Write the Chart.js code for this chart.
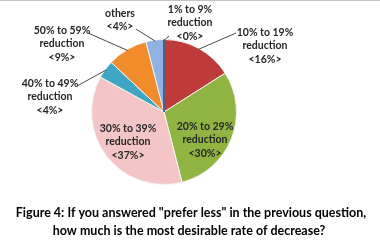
<!DOCTYPE html>
<html>
<head>
<meta charset="utf-8">
<script src="https://cdn.jsdelivr.net/npm/chart.js@4.4.1/dist/chart.umd.min.js"></script>
<style>
  html, body { margin: 0; background: #fff; }
  #wrap { width: 380px; height: 248px; position: relative; }
</style>
</head>
<body>
<div id="wrap"><canvas id="myChart"></canvas></div>
<script>
// data
const categories = ['1% to 9%', '10% to 19%', '20% to 29%', '30% to 39%', '40% to 49%', '50% to 59%', 'others']
const shares = [0, 16, 30, 37, 4, 9, 4]
const titleLines = ['Figure 4: If you answered "prefer less" in the previous question,',
                    'how much is the most desirable rate of decrease?']

// look
const sliceColors = ['#1f3d6e', '#be3b3a', '#8fb442', '#f4c5c6', '#3ea6c4', '#f28b2b', '#8fb2e2']
// label centre and leader start, as offsets from the pie centre (null = no leader)
const labelSpots = [[26, -89], [101, -66], [41, 28], [-36, 30], [-114, -15], [-102, -68], [-44, -92]]
const leaderFrom = [[5, -76], [72, -79], null, null, [-87, -26], [-76, -79], [-28, -83]]

function labelText(i) {
  if (categories[i] == 'others') return [categories[i], '<' + shares[i] + '%>']
  return [categories[i], 'reduction', '<' + shares[i] + '%>']
}

const pieLabels = {
  id: 'pieLabels',
  afterDraw(chart) {
    const ctx = chart.ctx
    const arcs = chart.getDatasetMeta(0).data
    ctx.save()
    // top frame line of the original picture
    ctx.strokeStyle = '#c4c4c4'
    ctx.lineWidth = 1
    ctx.beginPath(); ctx.moveTo(0, 0.5); ctx.lineTo(380, 0.5); ctx.stroke()

    arcs.forEach(function (arc, i) {
      const p = arc.getProps(['x', 'y', 'startAngle', 'endAngle', 'outerRadius'], true)
      // zero slice: Chart.js draws nothing, so show it as a thin edge
      if (shares[i] == 0) {
        ctx.strokeStyle = sliceColors[i]
        ctx.lineWidth = 1.5
        ctx.beginPath()
        ctx.moveTo(p.x, p.y)
        ctx.lineTo(p.x + p.outerRadius * Math.cos(p.startAngle), p.y + p.outerRadius * Math.sin(p.startAngle))
        ctx.stroke()
      }
      const mid = (p.startAngle + p.endAngle) / 2
      if (leaderFrom[i]) {
        ctx.strokeStyle = '#4a4a4a'
        ctx.lineWidth = 1
        ctx.beginPath()
        ctx.moveTo(p.x + leaderFrom[i][0], p.y + leaderFrom[i][1])
        ctx.lineTo(p.x + (p.outerRadius - 1) * Math.cos(mid), p.y + (p.outerRadius - 1) * Math.sin(mid))
        ctx.stroke()
      }
      const lines = labelText(i)
      const lh = 13.4
      ctx.fillStyle = '#262626'
      ctx.font = 'bold 10.5px Lato'
      ctx.textAlign = 'center'
      ctx.textBaseline = 'middle'
      const cx = p.x + labelSpots[i][0]
      const cy = p.y + labelSpots[i][1]
      lines.forEach(function (t, k) {
        ctx.fillText(t, cx, cy + (k - (lines.length - 1) / 2) * lh)
      })
    })

    ctx.fillStyle = '#000'
    ctx.font = 'bold 12.5px Lato'
    ctx.textAlign = 'center'
    ctx.textBaseline = 'middle'
    ctx.fillText(titleLines[0], 191, 213)
    ctx.fillText(titleLines[1], 189, 231)
    ctx.restore()
  }
}

const chart = new Chart(document.getElementById('myChart'), {
  type: 'pie',
  data: {
    labels: categories,
    datasets: [{
      data: shares,
      backgroundColor: sliceColors,
      borderColor: '#f4f4f4',
      borderWidth: 1
    }]
  },
  options: {
    responsive: true,
    maintainAspectRatio: false,
    animation: false,
    events: [],
    layout: { padding: { left: 91, right: 143, top: 39, bottom: 63 } },
    plugins: {
      legend: { display: false },
      tooltip: { enabled: false }
    }
  },
  plugins: [pieLabels]
})
</script>
</body>
</html>
